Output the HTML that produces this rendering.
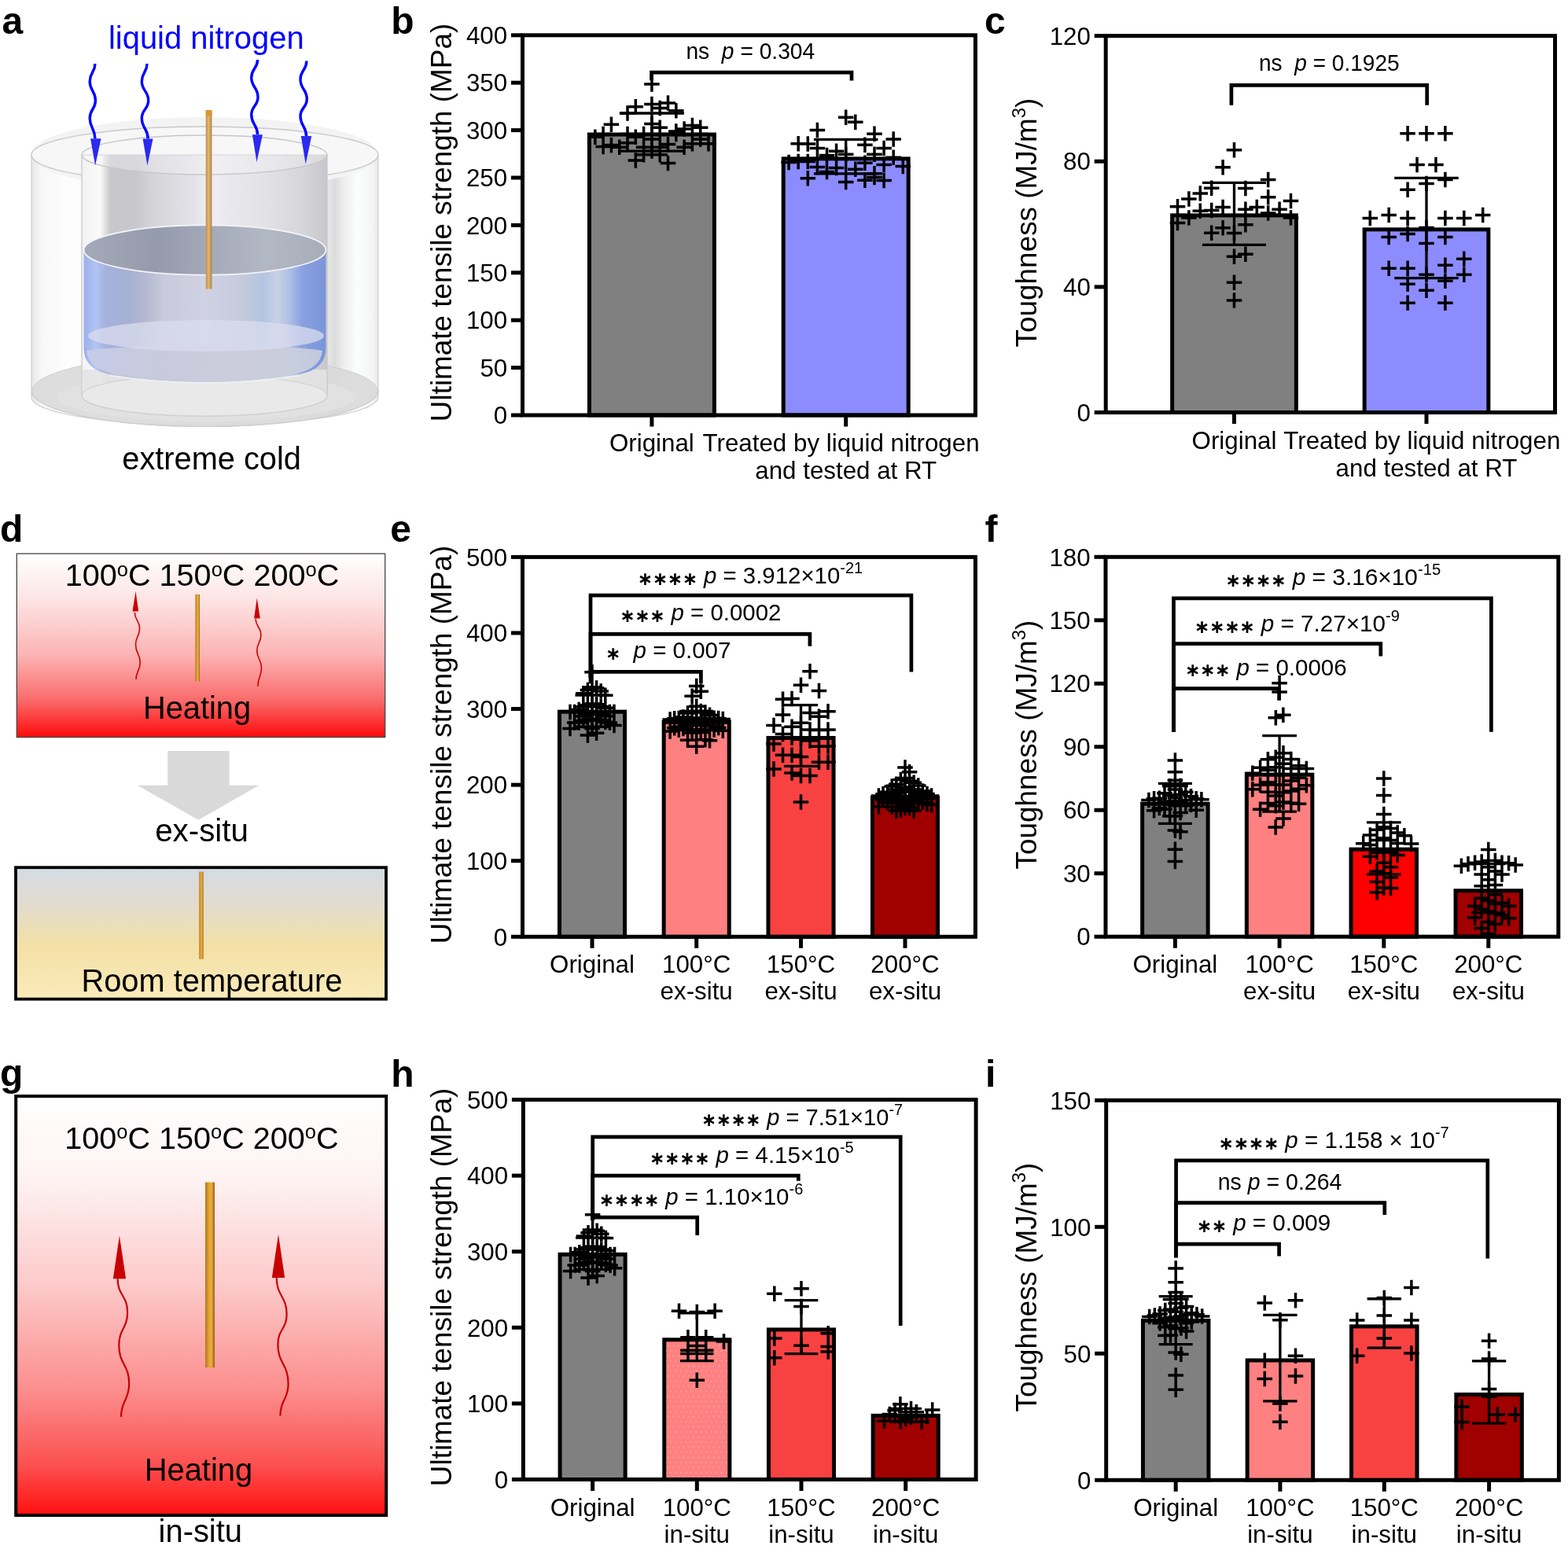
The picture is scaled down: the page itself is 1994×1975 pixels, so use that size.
<!DOCTYPE html><html><head><meta charset="utf-8"><title>Figure</title>
<style>html,body{margin:0;padding:0;background:#fff;}svg{display:block;}text{font-family:"Liberation Sans", Arial, Helvetica, sans-serif;}</style>
</head><body>
<svg width="1994" height="1975" viewBox="0 0 1994 1975">
<rect width="1994" height="1975" fill="#fff"/>
<defs>
<linearGradient id="gD" x1="0" y1="0" x2="0" y2="1">
 <stop offset="0" stop-color="#ffffff"/><stop offset="0.25" stop-color="#fde4e4"/><stop offset="0.55" stop-color="#fcb4b4"/><stop offset="0.8" stop-color="#fa6a6a"/><stop offset="1" stop-color="#ff0a0a"/>
</linearGradient>
<linearGradient id="gG" x1="0" y1="0" x2="0" y2="1">
 <stop offset="0" stop-color="#ffffff"/><stop offset="0.2" stop-color="#fef2f2"/><stop offset="0.45" stop-color="#fdcaca"/><stop offset="0.7" stop-color="#fc8e8e"/><stop offset="0.88" stop-color="#fc5050"/><stop offset="1" stop-color="#ff1010"/>
</linearGradient>
<linearGradient id="gRT" x1="0" y1="0" x2="0" y2="1">
 <stop offset="0" stop-color="#d4dbe6"/><stop offset="0.3" stop-color="#e3dccb"/><stop offset="0.6" stop-color="#f3e0a6"/><stop offset="1" stop-color="#fbebba"/>
</linearGradient>
<linearGradient id="gRod" x1="0" y1="0" x2="1" y2="0">
 <stop offset="0" stop-color="#b07818"/><stop offset="0.45" stop-color="#e8a838"/><stop offset="0.7" stop-color="#eaa83a"/><stop offset="1" stop-color="#8a5a10"/>
</linearGradient>
<pattern id="dots" x="0.6" y="1.2" width="6.45" height="12.9" patternUnits="userSpaceOnUse"><rect x="0.2" y="0.2" width="1.6" height="1.6" fill="#ffaaaa"/><rect x="3.4" y="6.65" width="1.6" height="1.6" fill="#ffaaaa"/></pattern>
</defs>
<text x="2.5" y="42.8" font-size="48" font-weight="bold">a</text>
<text x="497.3" y="42.8" font-size="48" font-weight="bold">b</text>
<text x="1252.1" y="42.8" font-size="48" font-weight="bold">c</text>
<text x="0" y="688.5" font-size="48" font-weight="bold">d</text>
<text x="496.2" y="688.5" font-size="48" font-weight="bold">e</text>
<text x="1252.5" y="688.5" font-size="48" font-weight="bold">f</text>
<text x="0" y="1381.3" font-size="48" font-weight="bold">g</text>
<text x="497.3" y="1381.5" font-size="48" font-weight="bold">h</text>
<text x="1253" y="1381.5" font-size="48" font-weight="bold">i</text>
<rect x="749.4" y="171.04" width="159" height="356.96" fill="#808080" stroke="#000" stroke-width="5"/>
<rect x="996.2" y="201.84" width="159" height="326.16" fill="#8c8cff" stroke="#000" stroke-width="5"/>
<rect x="664.5" y="44.8" width="575.9" height="483.2" fill="none" stroke="#000" stroke-width="5" stroke-linejoin="miter"/>
<line x1="650" y1="528" x2="664.5" y2="528" stroke="#000" stroke-width="5"/>
<text x="645.2" y="539.2" font-size="31.3" text-anchor="end">0</text>
<line x1="650" y1="467.6" x2="664.5" y2="467.6" stroke="#000" stroke-width="5"/>
<text x="645.2" y="478.8" font-size="31.3" text-anchor="end">50</text>
<line x1="650" y1="407.2" x2="664.5" y2="407.2" stroke="#000" stroke-width="5"/>
<text x="645.2" y="418.4" font-size="31.3" text-anchor="end">100</text>
<line x1="650" y1="346.8" x2="664.5" y2="346.8" stroke="#000" stroke-width="5"/>
<text x="645.2" y="358" font-size="31.3" text-anchor="end">150</text>
<line x1="650" y1="286.4" x2="664.5" y2="286.4" stroke="#000" stroke-width="5"/>
<text x="645.2" y="297.6" font-size="31.3" text-anchor="end">200</text>
<line x1="650" y1="226" x2="664.5" y2="226" stroke="#000" stroke-width="5"/>
<text x="645.2" y="237.2" font-size="31.3" text-anchor="end">250</text>
<line x1="650" y1="165.6" x2="664.5" y2="165.6" stroke="#000" stroke-width="5"/>
<text x="645.2" y="176.8" font-size="31.3" text-anchor="end">300</text>
<line x1="650" y1="105.2" x2="664.5" y2="105.2" stroke="#000" stroke-width="5"/>
<text x="645.2" y="116.4" font-size="31.3" text-anchor="end">350</text>
<line x1="650" y1="44.8" x2="664.5" y2="44.8" stroke="#000" stroke-width="5"/>
<text x="645.2" y="56" font-size="31.3" text-anchor="end">400</text>
<line x1="828.9" y1="528" x2="828.9" y2="542.5" stroke="#000" stroke-width="5"/>
<line x1="1075.7" y1="528" x2="1075.7" y2="542.5" stroke="#000" stroke-width="5"/>
<path d="M819.15 107.01h19.5M828.9 97.26v19.5M798.55 135.64h19.5M808.3 125.89v19.5M788.25 143.98h19.5M798 134.23v19.5M819.15 132.38h19.5M828.9 122.63v19.5M829.45 137.45h19.5M839.2 127.7v19.5M839.75 131.05h19.5M849.5 121.3v19.5M850.05 140.84h19.5M859.8 131.09v19.5M767.65 158.23h19.5M777.4 148.48v19.5M819.15 157.51h19.5M828.9 147.76v19.5M829.45 162.22h19.5M839.2 152.47v19.5M870.65 159.44h19.5M880.4 149.69v19.5M860.35 164.03h19.5M870.1 154.28v19.5M880.95 162.22h19.5M890.7 152.47v19.5M850.05 166.93h19.5M859.8 157.18v19.5M747.05 174.3h19.5M756.8 164.55v19.5M798.55 174.3h19.5M808.3 164.55v19.5M891.25 182.75h19.5M901 173v19.5M757.35 186.38h19.5M767.1 176.63v19.5M767.65 184.57h19.5M777.4 174.82v19.5M777.95 187.34h19.5M787.7 177.59v19.5M788.25 181.79h19.5M798 172.04v19.5M819.15 177.08h19.5M828.9 167.33v19.5M839.75 183.6h19.5M849.5 173.85v19.5M860.35 187.34h19.5M870.1 177.59v19.5M870.65 182.75h19.5M880.4 173v19.5M819.15 191.93h19.5M828.9 182.18v19.5M798.55 204.01h19.5M808.3 194.26v19.5M839.75 207.4h19.5M849.5 197.65v19.5M880.95 177.08h19.5M890.7 167.33v19.5M808.85 187.34h19.5M818.6 177.59v19.5M829.45 187.34h19.5M839.2 177.59v19.5M808.85 196.65h19.5M818.6 186.9v19.5M829.45 196.65h19.5M839.2 186.9v19.5M808.85 170.43h19.5M818.6 160.68v19.5M829.45 170.43h19.5M839.2 160.68v19.5M788.25 170.43h19.5M798 160.68v19.5M850.05 170.43h19.5M859.8 160.68v19.5M757.35 170.43h19.5M767.1 160.68v19.5M880.95 170.43h19.5M890.7 160.68v19.5" stroke="#000" stroke-width="3.5" fill="none"/>
<path d="M828.9 192.06V143.98M787.9 143.98h82M787.9 192.06h82" stroke="#000" stroke-width="3.3" fill="none"/>
<path d="M1065.95 149.17h19.5M1075.7 139.42v19.5M1078.05 155.33h19.5M1087.8 145.58v19.5M1029.65 165.6h19.5M1039.4 155.85v19.5M1102.25 170.19h19.5M1112 160.44v19.5M1126.45 176.96h19.5M1136.2 167.21v19.5M1005.45 182.63h19.5M1015.2 172.88v19.5M1017.55 183.12h19.5M1027.3 173.37v19.5M1029.65 188.55h19.5M1039.4 178.8v19.5M1090.15 184.2h19.5M1099.9 174.45v19.5M1053.85 192.18h19.5M1063.6 182.43v19.5M1041.75 197.49h19.5M1051.5 187.74v19.5M1065.95 196.28h19.5M1075.7 186.53v19.5M1114.35 188.55h19.5M1124.1 178.8v19.5M1102.25 196.28h19.5M1112 186.53v19.5M1126.45 200.27h19.5M1136.2 190.52v19.5M993.35 206.43h19.5M1003.1 196.68v19.5M1005.45 205.46h19.5M1015.2 195.71v19.5M1017.55 205.46h19.5M1027.3 195.71v19.5M1090.15 207.28h19.5M1099.9 197.53v19.5M1114.35 209.45h19.5M1124.1 199.7v19.5M1138.55 211.5h19.5M1148.3 201.75v19.5M1029.65 212.47h19.5M1039.4 202.72v19.5M1053.85 213.44h19.5M1063.6 203.69v19.5M1078.05 215.25h19.5M1087.8 205.5v19.5M1041.75 218.51h19.5M1051.5 208.76v19.5M1102.25 220.81h19.5M1112 211.06v19.5M1017.55 226.72h19.5M1027.3 216.97v19.5M1065.95 231.56h19.5M1075.7 221.81v19.5M1090.15 229.26h19.5M1099.9 219.51v19.5M1114.35 229.5h19.5M1124.1 219.75v19.5M1102.25 225.52h19.5M1112 215.77v19.5M1041.75 199.42h19.5M1051.5 189.67v19.5M1029.65 201.84h19.5M1039.4 192.09v19.5" stroke="#000" stroke-width="3.5" fill="none"/>
<path d="M1075.7 220.81V177.44M1034.95 177.44h81.5M1034.95 220.81h81.5" stroke="#000" stroke-width="3.3" fill="none"/>
<path d="M828.5 102.3V92.2H1083V102.6" stroke="#000" stroke-width="4.7" fill="none" stroke-linejoin="miter"/>
<text x="872.39" y="75" font-size="29.5" textLength="163.84" lengthAdjust="spacingAndGlyphs"><tspan>ns</tspan><tspan>&#160; </tspan><tspan font-style="italic">p</tspan><tspan> = 0.304</tspan></text>
<text x="828.9" y="574" font-size="31.3" text-anchor="middle">Original</text>
<text x="1069.6" y="574" font-size="31.3" text-anchor="middle">Treated by liquid nitrogen</text>
<text x="1075.7" y="609" font-size="31.3" text-anchor="middle">and tested at RT</text>
<text transform="translate(573.5 283) rotate(-90)" text-anchor="middle" font-size="36.9">Ultimate tensile strength (MPa)</text>
<rect x="1490.65" y="273.88" width="157.7" height="250.62" fill="#808080" stroke="#000" stroke-width="5"/>
<rect x="1735.15" y="291.83" width="157.7" height="232.67" fill="#8c8cff" stroke="#000" stroke-width="5"/>
<rect x="1406.2" y="45.6" width="571.3" height="478.9" fill="none" stroke="#000" stroke-width="5" stroke-linejoin="miter"/>
<line x1="1391.7" y1="524.5" x2="1406.2" y2="524.5" stroke="#000" stroke-width="5"/>
<text x="1386.9" y="535.7" font-size="31.3" text-anchor="end">0</text>
<line x1="1391.7" y1="364.87" x2="1406.2" y2="364.87" stroke="#000" stroke-width="5"/>
<text x="1386.9" y="376.07" font-size="31.3" text-anchor="end">40</text>
<line x1="1391.7" y1="205.23" x2="1406.2" y2="205.23" stroke="#000" stroke-width="5"/>
<text x="1386.9" y="216.43" font-size="31.3" text-anchor="end">80</text>
<line x1="1391.7" y1="45.6" x2="1406.2" y2="45.6" stroke="#000" stroke-width="5"/>
<text x="1386.9" y="56.8" font-size="31.3" text-anchor="end">120</text>
<line x1="1569.5" y1="524.5" x2="1569.5" y2="539" stroke="#000" stroke-width="5"/>
<line x1="1814" y1="524.5" x2="1814" y2="539" stroke="#000" stroke-width="5"/>
<path d="M1559.75 190.87h19.5M1569.5 181.12v19.5M1545.35 212.82h19.5M1555.1 203.07v19.5M1602.95 228.38h19.5M1612.7 218.63v19.5M1530.95 239.16h19.5M1540.7 229.41v19.5M1574.15 239.55h19.5M1583.9 229.8v19.5M1516.55 245.94h19.5M1526.3 236.19v19.5M1502.15 253.12h19.5M1511.9 243.37v19.5M1602.95 250.73h19.5M1612.7 240.98v19.5M1631.75 255.52h19.5M1641.5 245.77v19.5M1487.75 262.7h19.5M1497.5 252.95v19.5M1545.35 263.5h19.5M1555.1 253.75v19.5M1588.55 263.5h19.5M1598.3 253.75v19.5M1516.55 268.29h19.5M1526.3 258.54v19.5M1530.95 267.49h19.5M1540.7 257.74v19.5M1574.15 266.29h19.5M1583.9 256.54v19.5M1617.35 266.29h19.5M1627.1 256.54v19.5M1502.15 277.07h19.5M1511.9 267.32v19.5M1602.95 271.08h19.5M1612.7 261.33v19.5M1631.75 277.07h19.5M1641.5 267.32v19.5M1487.75 283.45h19.5M1497.5 273.7v19.5M1545.35 289.84h19.5M1555.1 280.09v19.5M1574.15 285.85h19.5M1583.9 276.1v19.5M1530.95 296.22h19.5M1540.7 286.47v19.5M1559.75 296.62h19.5M1569.5 286.87v19.5M1559.75 326.16h19.5M1569.5 316.41v19.5M1574.15 323.36h19.5M1583.9 313.61v19.5M1559.75 359.28h19.5M1569.5 349.53v19.5M1559.75 382.03h19.5M1569.5 372.28v19.5" stroke="#000" stroke-width="3.5" fill="none"/>
<path d="M1569.5 311.39V232.37M1528.95 232.37h81.1M1528.95 311.39h81.1" stroke="#000" stroke-width="3.3" fill="none"/>
<path d="M1780.35 169.71h19.5M1790.1 159.96v19.5M1804.25 169.71h19.5M1814 159.96v19.5M1828.15 169.71h19.5M1837.9 159.96v19.5M1792.3 209.62h19.5M1802.05 199.87v19.5M1816.2 209.62h19.5M1825.95 199.87v19.5M1828.15 228.38h19.5M1837.9 218.63v19.5M1804.25 233.57h19.5M1814 223.82v19.5M1780.35 241.15h19.5M1790.1 231.4v19.5M1732.55 277.47h19.5M1742.3 267.72v19.5M1756.45 273.48h19.5M1766.2 263.73v19.5M1780.35 277.47h19.5M1790.1 267.72v19.5M1828.15 277.47h19.5M1837.9 267.72v19.5M1852.05 277.47h19.5M1861.8 267.72v19.5M1875.95 273.48h19.5M1885.7 263.73v19.5M1804.25 289.44h19.5M1814 279.69v19.5M1756.45 301.41h19.5M1766.2 291.66v19.5M1780.35 297.42h19.5M1790.1 287.67v19.5M1828.15 301.41h19.5M1837.9 291.66v19.5M1804.25 309.39h19.5M1814 299.64v19.5M1852.05 329.35h19.5M1861.8 319.6v19.5M1756.45 341.32h19.5M1766.2 331.57v19.5M1780.35 341.32h19.5M1790.1 331.57v19.5M1828.15 337.33h19.5M1837.9 327.58v19.5M1804.25 349.3h19.5M1814 339.55v19.5M1852.05 349.3h19.5M1861.8 339.55v19.5M1780.35 361.27h19.5M1790.1 351.52v19.5M1828.15 357.28h19.5M1837.9 347.53v19.5M1804.25 369.26h19.5M1814 359.51v19.5M1780.35 385.22h19.5M1790.1 375.47v19.5M1828.15 385.22h19.5M1837.9 375.47v19.5" stroke="#000" stroke-width="3.5" fill="none"/>
<path d="M1814 353.69V226.38M1773.25 226.38h81.5M1773.25 353.69h81.5" stroke="#000" stroke-width="3.3" fill="none"/>
<path d="M1565.9 133.7V108.3H1814.7V133.7" stroke="#000" stroke-width="4.7" fill="none" stroke-linejoin="miter"/>
<text x="1601" y="90" font-size="29.5" textLength="178.72" lengthAdjust="spacingAndGlyphs"><tspan>ns</tspan><tspan>&#160; </tspan><tspan font-style="italic">p</tspan><tspan> = 0.1925</tspan></text>
<text x="1569.5" y="571" font-size="31.3" text-anchor="middle">Original</text>
<text x="1808.3" y="571" font-size="31.3" text-anchor="middle">Treated by liquid nitrogen</text>
<text x="1814" y="606" font-size="31.3" text-anchor="middle">and tested at RT</text>
<text transform="translate(1317.8 283) rotate(-90)" text-anchor="middle" font-size="36.9">Toughness (MJ/m<tspan font-size="24" dy="-14">3</tspan><tspan dy="14">)</tspan></text>
<rect x="711.45" y="905.13" width="83.1" height="286.17" fill="#808080" stroke="#000" stroke-width="5"/>
<rect x="844.15" y="918.46" width="83.1" height="272.84" fill="#ff8080" stroke="#000" stroke-width="5"/>
<rect x="976.95" y="938.45" width="83.1" height="252.85" fill="#f84242" stroke="#000" stroke-width="5"/>
<rect x="1109.45" y="1014.37" width="83.1" height="176.93" fill="#a00000" stroke="#000" stroke-width="5"/>
<rect x="664.5" y="708.4" width="575.9" height="482.9" fill="none" stroke="#000" stroke-width="5" stroke-linejoin="miter"/>
<line x1="650" y1="1191.3" x2="664.5" y2="1191.3" stroke="#000" stroke-width="5"/>
<text x="645.2" y="1202.5" font-size="31.3" text-anchor="end">0</text>
<line x1="650" y1="1094.72" x2="664.5" y2="1094.72" stroke="#000" stroke-width="5"/>
<text x="645.2" y="1105.92" font-size="31.3" text-anchor="end">100</text>
<line x1="650" y1="998.14" x2="664.5" y2="998.14" stroke="#000" stroke-width="5"/>
<text x="645.2" y="1009.34" font-size="31.3" text-anchor="end">200</text>
<line x1="650" y1="901.56" x2="664.5" y2="901.56" stroke="#000" stroke-width="5"/>
<text x="645.2" y="912.76" font-size="31.3" text-anchor="end">300</text>
<line x1="650" y1="804.98" x2="664.5" y2="804.98" stroke="#000" stroke-width="5"/>
<text x="645.2" y="816.18" font-size="31.3" text-anchor="end">400</text>
<line x1="650" y1="708.4" x2="664.5" y2="708.4" stroke="#000" stroke-width="5"/>
<text x="645.2" y="719.6" font-size="31.3" text-anchor="end">500</text>
<line x1="753" y1="1191.3" x2="753" y2="1205.8" stroke="#000" stroke-width="5"/>
<line x1="885.7" y1="1191.3" x2="885.7" y2="1205.8" stroke="#000" stroke-width="5"/>
<line x1="1018.5" y1="1191.3" x2="1018.5" y2="1205.8" stroke="#000" stroke-width="5"/>
<line x1="1151" y1="1191.3" x2="1151" y2="1205.8" stroke="#000" stroke-width="5"/>
<path d="M743.25 854.72h19.5M753 844.97v19.5M743.25 873.94h19.5M753 864.19v19.5M748.85 875h19.5M758.6 865.25v19.5M737.65 877.61h19.5M747.4 867.86v19.5M754.45 879.06h19.5M764.2 869.31v19.5M732.05 881.76h19.5M741.8 872.01v19.5M760.05 884.27h19.5M769.8 874.52v19.5M743.25 895.09h19.5M753 885.34v19.5M748.85 895.67h19.5M758.6 885.92v19.5M737.65 896.63h19.5M747.4 886.88v19.5M754.45 898.86h19.5M764.2 889.11v19.5M732.05 898.86h19.5M741.8 889.11v19.5M760.05 900.3h19.5M769.8 890.55v19.5M726.45 902.62h19.5M736.2 892.87v19.5M765.65 905.42h19.5M775.4 895.67v19.5M720.85 905.42h19.5M730.6 895.67v19.5M771.25 905.42h19.5M781 895.67v19.5M715.25 905.42h19.5M725 895.67v19.5M743.25 905.42h19.5M753 895.67v19.5M748.85 905.42h19.5M758.6 895.67v19.5M737.65 908.51h19.5M747.4 898.76v19.5M754.45 908.51h19.5M764.2 898.76v19.5M732.05 910.74h19.5M741.8 900.99v19.5M760.05 910.74h19.5M769.8 900.99v19.5M743.25 914.5h19.5M753 904.75v19.5M748.85 915.27h19.5M758.6 905.52v19.5M737.65 915.27h19.5M747.4 905.52v19.5M754.45 915.95h19.5M764.2 906.2v19.5M732.05 916.72h19.5M741.8 906.97v19.5M760.05 918.17h19.5M769.8 908.42v19.5M726.45 918.94h19.5M736.2 909.19v19.5M726.45 918.94h19.5M736.2 909.19v19.5M765.65 918.94h19.5M775.4 909.19v19.5M720.85 918.94h19.5M730.6 909.19v19.5M771.25 922.61h19.5M781 912.86v19.5M715.25 926.38h19.5M725 916.63v19.5M743.25 926.38h19.5M753 916.63v19.5M748.85 932.27h19.5M758.6 922.52v19.5M737.65 934.98h19.5M747.4 925.23v19.5" stroke="#000" stroke-width="3.5" fill="none"/>
<path d="M753 924.26V883.98M731.5 883.98h43M731.5 924.26h43" stroke="#000" stroke-width="3.3" fill="none"/>
<path d="M875.95 872.59h19.5M885.7 862.84v19.5M881.55 879.35h19.5M891.3 869.6v19.5M870.35 885.14h19.5M880.1 875.39v19.5M875.95 898.35h19.5M885.7 888.6v19.5M881.55 904.58h19.5M891.3 894.83v19.5M870.35 904.88h19.5M880.1 895.13v19.5M887.15 905.95h19.5M896.9 896.2v19.5M864.75 906.89h19.5M874.5 897.14v19.5M892.75 909.17h19.5M902.5 899.42v19.5M859.15 911.97h19.5M868.9 902.22v19.5M875.95 912.92h19.5M885.7 903.17v19.5M898.35 913.37h19.5M908.1 903.62v19.5M853.55 913.49h19.5M863.3 903.74v19.5M903.95 913.55h19.5M913.7 903.8v19.5M847.95 913.65h19.5M857.7 903.9v19.5M909.55 914.58h19.5M919.3 904.83v19.5M842.35 914.95h19.5M852.1 905.2v19.5M875.95 914.96h19.5M885.7 905.21v19.5M881.55 916.03h19.5M891.3 906.28v19.5M870.35 916.08h19.5M880.1 906.33v19.5M887.15 916.79h19.5M896.9 907.04v19.5M864.75 916.79h19.5M874.5 907.04v19.5M892.75 916.84h19.5M902.5 907.09v19.5M859.15 917.58h19.5M868.9 907.83v19.5M881.55 920.49h19.5M891.3 910.74v19.5M870.35 921.25h19.5M880.1 911.5v19.5M887.15 922.59h19.5M896.9 912.84v19.5M864.75 922.75h19.5M874.5 913v19.5M898.35 923.12h19.5M908.1 913.37v19.5M892.75 923.87h19.5M902.5 914.12v19.5M853.55 924.23h19.5M863.3 914.48v19.5M903.95 925.53h19.5M913.7 915.78v19.5M847.95 925.79h19.5M857.7 916.04v19.5M859.15 926.45h19.5M868.9 916.7v19.5M875.95 927.7h19.5M885.7 917.95v19.5M898.35 927.97h19.5M908.1 918.22v19.5M853.55 928.21h19.5M863.3 918.46v19.5M909.55 929.2h19.5M919.3 919.45v19.5M842.35 930.05h19.5M852.1 920.3v19.5M875.95 931.08h19.5M885.7 921.33v19.5M881.55 931.59h19.5M891.3 921.84v19.5M870.35 931.92h19.5M880.1 922.17v19.5M887.15 940.83h19.5M896.9 931.08v19.5M864.75 941.15h19.5M874.5 931.4v19.5M892.75 941.81h19.5M902.5 932.06v19.5M875.95 949.27h19.5M885.7 939.52v19.5" stroke="#000" stroke-width="3.5" fill="none"/>
<path d="M885.7 928.6V904.46M864.2 904.46h43M864.2 928.6h43" stroke="#000" stroke-width="3.3" fill="none"/>
<path d="M1020.25 853.66h19.5M1030 843.91v19.5M1008.75 871.14h19.5M1018.5 861.39v19.5M1031.75 878.38h19.5M1041.5 868.63v19.5M985.75 889.29h19.5M995.5 879.54v19.5M997.25 888.43h19.5M1007 878.68v19.5M1043.25 904.65h19.5M1053 894.9v19.5M985.75 909.09h19.5M995.5 899.34v19.5M1020.25 906.58h19.5M1030 896.83v19.5M1031.75 911.22h19.5M1041.5 901.47v19.5M974.25 922.61h19.5M984 912.86v19.5M997.25 924.16h19.5M1007 914.41v19.5M1008.75 919.14h19.5M1018.5 909.39v19.5M1020.25 927.93h19.5M1030 918.18v19.5M1043.25 927.93h19.5M1053 918.18v19.5M1031.75 928.6h19.5M1041.5 918.85v19.5M985.75 933.43h19.5M995.5 923.68v19.5M974.25 946.08h19.5M984 936.33v19.5M1031.75 949.17h19.5M1041.5 939.42v19.5M1043.25 948.88h19.5M1053 939.13v19.5M985.75 960.18h19.5M995.5 950.43v19.5M997.25 960.18h19.5M1007 950.43v19.5M1008.75 962.41h19.5M1018.5 952.66v19.5M1031.75 969.26h19.5M1041.5 959.51v19.5M1043.25 969.26h19.5M1053 959.51v19.5M974.25 978.05h19.5M984 968.3v19.5M997.25 983.07h19.5M1007 973.32v19.5M1008.75 986.55h19.5M1018.5 976.8v19.5M1020.25 986.55h19.5M1030 976.8v19.5M1008.75 1019.97h19.5M1018.5 1010.22v19.5M1008.75 940.19h19.5M1018.5 930.44v19.5M997.25 938.26h19.5M1007 928.51v19.5M1020.25 942.12h19.5M1030 932.37v19.5" stroke="#000" stroke-width="3.5" fill="none"/>
<path d="M1018.5 974.28V896.63M996.85 896.63h43.3M996.85 974.28h43.3" stroke="#000" stroke-width="3.3" fill="none"/>
<path d="M1141.25 975.93h19.5M1151 966.18v19.5M1146.85 981.72h19.5M1156.6 971.97v19.5M1141.25 989.45h19.5M1151 979.7v19.5M1135.65 991.38h19.5M1145.4 981.63v19.5M1146.85 993.31h19.5M1156.6 983.56v19.5M1152.45 995.24h19.5M1162.2 985.49v19.5M1130.05 997.17h19.5M1139.8 987.42v19.5M1158.05 999.11h19.5M1167.8 989.36v19.5M1124.45 1000.07h19.5M1134.2 990.32v19.5M1141.25 1001.04h19.5M1151 991.29v19.5M1146.85 1004.94h19.5M1156.6 995.19v19.5M1135.65 1006.04h19.5M1145.4 996.29v19.5M1163.65 1006.06h19.5M1173.4 996.31v19.5M1152.45 1007.03h19.5M1162.2 997.28v19.5M1118.85 1007.15h19.5M1128.6 997.4v19.5M1130.05 1008.51h19.5M1139.8 998.76v19.5M1169.25 1009.41h19.5M1179 999.66v19.5M1113.25 1009.64h19.5M1123 999.89v19.5M1158.05 1010.49h19.5M1167.8 1000.74v19.5M1124.45 1011.64h19.5M1134.2 1001.89v19.5M1174.85 1012.01h19.5M1184.6 1002.26v19.5M1107.65 1012.03h19.5M1117.4 1002.28v19.5M1141.25 1012.3h19.5M1151 1002.55v19.5M1141.25 1012.73h19.5M1151 1002.98v19.5M1146.85 1012.89h19.5M1156.6 1003.14v19.5M1135.65 1013.34h19.5M1145.4 1003.59v19.5M1152.45 1013.4h19.5M1162.2 1003.65v19.5M1130.05 1013.87h19.5M1139.8 1004.12v19.5M1158.05 1013.9h19.5M1167.8 1004.15v19.5M1124.45 1014.71h19.5M1134.2 1004.96v19.5M1163.65 1014.76h19.5M1173.4 1005.01v19.5M1118.85 1015.35h19.5M1128.6 1005.6v19.5M1169.25 1015.63h19.5M1179 1005.88v19.5M1146.85 1016.14h19.5M1156.6 1006.39v19.5M1113.25 1016.94h19.5M1123 1007.19v19.5M1135.65 1017.26h19.5M1145.4 1007.51v19.5M1152.45 1018.82h19.5M1162.2 1009.07v19.5M1130.05 1019.77h19.5M1139.8 1010.02v19.5M1163.65 1020.34h19.5M1173.4 1010.59v19.5M1118.85 1020.92h19.5M1128.6 1011.17v19.5M1158.05 1021.82h19.5M1167.8 1012.07v19.5M1169.25 1022.41h19.5M1179 1012.66v19.5M1174.85 1023.5h19.5M1184.6 1013.75v19.5M1141.25 1024.6h19.5M1151 1014.85v19.5M1107.65 1025.65h19.5M1117.4 1015.9v19.5M1124.45 1025.9h19.5M1134.2 1016.15v19.5M1141.25 1027.05h19.5M1151 1017.3v19.5M1146.85 1027.1h19.5M1156.6 1017.35v19.5M1146.85 1027.28h19.5M1156.6 1017.53v19.5M1135.65 1030.25h19.5M1145.4 1020.5v19.5M1152.45 1031.08h19.5M1162.2 1021.33v19.5M1130.05 1031.21h19.5M1139.8 1021.46v19.5" stroke="#000" stroke-width="3.5" fill="none"/>
<path d="M1151 1021.32V1003.93M1129.5 1003.93h43M1129.5 1021.32h43" stroke="#000" stroke-width="3.3" fill="none"/>
<path d="M751 869.3V854.4H891.4V869.3" stroke="#000" stroke-width="4.7" fill="none" stroke-linejoin="miter"/>
<path d="M751 862V806.4H1029.9V821.7" stroke="#000" stroke-width="4.7" fill="none" stroke-linejoin="miter"/>
<path d="M751 862V757.2H1158.9V854.4" stroke="#000" stroke-width="4.7" fill="none" stroke-linejoin="miter"/>
<text x="770.1" y="837.4" font-size="29.5" textLength="159.27" lengthAdjust="spacingAndGlyphs"><tspan font-family="DejaVu Sans" font-weight="bold" font-size="23.5" letter-spacing="-0.6" dy="1.8">&#8727;</tspan><tspan dy="-1.8">&#160; </tspan><tspan font-style="italic">p</tspan><tspan> = 0.007</tspan></text>
<text x="788.31" y="788.8" font-size="29.5" textLength="205.05" lengthAdjust="spacingAndGlyphs"><tspan font-family="DejaVu Sans" font-weight="bold" font-size="23.5" letter-spacing="-0.6" dy="1.8">&#8727;&#8727;&#8727;</tspan><tspan dy="-1.8"> </tspan><tspan font-style="italic">p</tspan><tspan> = 0.0002</tspan></text>
<text x="810.71" y="742.1" font-size="29.5" textLength="286.38" lengthAdjust="spacingAndGlyphs"><tspan font-family="DejaVu Sans" font-weight="bold" font-size="23.5" letter-spacing="-0.6" dy="1.8">&#8727;&#8727;&#8727;&#8727;</tspan><tspan dy="-1.8"> </tspan><tspan font-style="italic">p</tspan><tspan> = 3.912×10</tspan><tspan font-size="20" dy="-13">-21</tspan></text>
<text x="753" y="1237.2" font-size="31.3" text-anchor="middle">Original</text>
<text x="885.7" y="1237.2" font-size="31.3" text-anchor="middle">100°C</text>
<text x="1018.5" y="1237.2" font-size="31.3" text-anchor="middle">150°C</text>
<text x="1151" y="1237.2" font-size="31.3" text-anchor="middle">200°C</text>
<text x="885.7" y="1271.4" font-size="31.3" text-anchor="middle">ex-situ</text>
<text x="1018.5" y="1271.4" font-size="31.3" text-anchor="middle">ex-situ</text>
<text x="1151" y="1271.4" font-size="31.3" text-anchor="middle">ex-situ</text>
<text transform="translate(573.5 947) rotate(-90)" text-anchor="middle" font-size="36.9">Ultimate tensile strength (MPa)</text>
<rect x="1452.65" y="1022.19" width="83.5" height="169.01" fill="#808080" stroke="#000" stroke-width="5"/>
<rect x="1585.35" y="985.16" width="83.5" height="206.04" fill="#ff8080" stroke="#000" stroke-width="5"/>
<rect x="1718.05" y="1080.13" width="83.5" height="111.07" fill="#ff0000" stroke="#000" stroke-width="5"/>
<rect x="1851.05" y="1132.72" width="83.5" height="58.48" fill="#a00000" stroke="#000" stroke-width="5"/>
<rect x="1406" y="708.3" width="575.8" height="482.9" fill="none" stroke="#000" stroke-width="5" stroke-linejoin="miter"/>
<line x1="1391.5" y1="1191.2" x2="1406" y2="1191.2" stroke="#000" stroke-width="5"/>
<text x="1386.7" y="1202.4" font-size="31.3" text-anchor="end">0</text>
<line x1="1391.5" y1="1110.72" x2="1406" y2="1110.72" stroke="#000" stroke-width="5"/>
<text x="1386.7" y="1121.92" font-size="31.3" text-anchor="end">30</text>
<line x1="1391.5" y1="1030.23" x2="1406" y2="1030.23" stroke="#000" stroke-width="5"/>
<text x="1386.7" y="1041.43" font-size="31.3" text-anchor="end">60</text>
<line x1="1391.5" y1="949.75" x2="1406" y2="949.75" stroke="#000" stroke-width="5"/>
<text x="1386.7" y="960.95" font-size="31.3" text-anchor="end">90</text>
<line x1="1391.5" y1="869.27" x2="1406" y2="869.27" stroke="#000" stroke-width="5"/>
<text x="1386.7" y="880.47" font-size="31.3" text-anchor="end">120</text>
<line x1="1391.5" y1="788.78" x2="1406" y2="788.78" stroke="#000" stroke-width="5"/>
<text x="1386.7" y="799.98" font-size="31.3" text-anchor="end">150</text>
<line x1="1391.5" y1="708.3" x2="1406" y2="708.3" stroke="#000" stroke-width="5"/>
<text x="1386.7" y="719.5" font-size="31.3" text-anchor="end">180</text>
<line x1="1494.4" y1="1191.2" x2="1494.4" y2="1205.7" stroke="#000" stroke-width="5"/>
<line x1="1627.1" y1="1191.2" x2="1627.1" y2="1205.7" stroke="#000" stroke-width="5"/>
<line x1="1759.8" y1="1191.2" x2="1759.8" y2="1205.7" stroke="#000" stroke-width="5"/>
<line x1="1892.8" y1="1191.2" x2="1892.8" y2="1205.7" stroke="#000" stroke-width="5"/>
<path d="M1484.65 966.92h19.5M1494.4 957.17v19.5M1484.65 981.68h19.5M1494.4 971.93v19.5M1484.65 992.14h19.5M1494.4 982.39v19.5M1491.35 999.38h19.5M1501.1 989.63v19.5M1477.95 999.65h19.5M1487.7 989.9v19.5M1484.65 1003.94h19.5M1494.4 994.19v19.5M1498.05 1007.16h19.5M1507.8 997.41v19.5M1471.25 1008.77h19.5M1481 999.02v19.5M1491.35 1010.38h19.5M1501.1 1000.63v19.5M1477.95 1011.45h19.5M1487.7 1001.7v19.5M1504.75 1012.8h19.5M1514.5 1003.05v19.5M1484.65 1014.14h19.5M1494.4 1004.39v19.5M1464.55 1015.21h19.5M1474.3 1005.46v19.5M1511.45 1015.75h19.5M1521.2 1006v19.5M1457.85 1015.75h19.5M1467.6 1006v19.5M1518.15 1016.82h19.5M1527.9 1007.07v19.5M1498.05 1017.62h19.5M1507.8 1007.87v19.5M1451.15 1017.62h19.5M1460.9 1007.87v19.5M1484.65 1018.16h19.5M1494.4 1008.41v19.5M1491.35 1018.43h19.5M1501.1 1008.68v19.5M1471.25 1018.97h19.5M1481 1009.22v19.5M1477.95 1020.04h19.5M1487.7 1010.29v19.5M1491.35 1020.84h19.5M1501.1 1011.09v19.5M1477.95 1022.19h19.5M1487.7 1012.44v19.5M1504.75 1023.53h19.5M1514.5 1013.78v19.5M1484.65 1024.87h19.5M1494.4 1015.12v19.5M1498.05 1024.87h19.5M1507.8 1015.12v19.5M1464.55 1027.55h19.5M1474.3 1017.8v19.5M1471.25 1029.16h19.5M1481 1019.41v19.5M1511.45 1030.23h19.5M1521.2 1020.48v19.5M1457.85 1030.77h19.5M1467.6 1021.02v19.5M1491.35 1033.45h19.5M1501.1 1023.7v19.5M1484.65 1037.75h19.5M1494.4 1028v19.5M1477.95 1038.01h19.5M1487.7 1028.26v19.5M1484.65 1055.99h19.5M1494.4 1046.24v19.5M1491.35 1057.87h19.5M1501.1 1048.12v19.5M1484.65 1080.13h19.5M1494.4 1070.38v19.5M1484.65 1095.42h19.5M1494.4 1085.67v19.5" stroke="#000" stroke-width="3.5" fill="none"/>
<path d="M1494.4 1047.4V996.43M1472.9 996.43h43M1472.9 1047.4h43" stroke="#000" stroke-width="3.3" fill="none"/>
<path d="M1617.35 868.73h19.5M1627.1 858.98v19.5M1617.35 880h19.5M1627.1 870.25v19.5M1612.6 912.73h19.5M1622.35 902.98v19.5M1622.1 909.24h19.5M1631.85 899.49v19.5" stroke="#000" stroke-width="3.5" fill="none"/>
<path d="M1622.25 957.8h19.5M1632 948.05v19.5M1612.45 963.16h19.5M1622.2 953.41v19.5M1632.05 965.58h19.5M1641.8 955.83v19.5M1602.65 965.85h19.5M1612.4 956.1v19.5M1622.25 971.29h19.5M1632 961.54v19.5M1641.85 973.84h19.5M1651.6 964.09v19.5M1612.45 975.79h19.5M1622.2 966.04v19.5M1592.85 976.21h19.5M1602.6 966.46v19.5M1651.65 977.42h19.5M1661.4 967.67v19.5M1632.05 977.58h19.5M1641.8 967.83v19.5M1602.65 979.54h19.5M1612.4 969.79v19.5M1583.05 983.15h19.5M1592.8 973.4v19.5M1622.25 984.99h19.5M1632 975.24v19.5M1622.25 985.07h19.5M1632 975.32v19.5M1612.45 985.41h19.5M1622.2 975.66v19.5M1641.85 989.26h19.5M1651.6 979.51v19.5M1632.05 993.1h19.5M1641.8 983.35v19.5M1602.65 994.85h19.5M1612.4 985.1v19.5M1622.25 997.89h19.5M1632 988.14v19.5M1612.45 998.04h19.5M1622.2 988.29v19.5M1592.85 998.18h19.5M1602.6 988.43v19.5M1651.65 998.81h19.5M1661.4 989.06v19.5M1641.85 1003.15h19.5M1651.6 993.4v19.5M1583.05 1003.71h19.5M1592.8 993.96v19.5M1632.05 1006.09h19.5M1641.8 996.34v19.5M1602.65 1007.26h19.5M1612.4 997.51v19.5M1622.25 1007.78h19.5M1632 998.03v19.5M1612.45 1011.89h19.5M1622.2 1002.14v19.5M1622.25 1019.98h19.5M1632 1010.23v19.5M1632.05 1021.27h19.5M1641.8 1011.52v19.5M1602.65 1021.38h19.5M1612.4 1011.63v19.5M1641.85 1022.19h19.5M1651.6 1012.44v19.5M1612.45 1024.81h19.5M1622.2 1015.06v19.5M1592.85 1029.37h19.5M1602.6 1019.62v19.5M1622.25 1040.96h19.5M1632 1031.21v19.5M1612.45 1051.96h19.5M1622.2 1042.21v19.5" stroke="#000" stroke-width="3.5" fill="none"/>
<path d="M1627.1 1032.11V935.53M1605.25 935.53h43.7M1605.25 1032.11h43.7" stroke="#000" stroke-width="3.3" fill="none"/>
<path d="M1750.05 989.99h19.5M1759.8 980.24v19.5M1750.05 1011.45h19.5M1759.8 1001.7v19.5M1750.05 1035.6h19.5M1759.8 1025.85v19.5M1750.05 1051.63h19.5M1759.8 1041.88v19.5M1758.75 1053.57h19.5M1768.5 1043.82v19.5M1741.35 1055.33h19.5M1751.1 1045.58v19.5M1767.45 1058.95h19.5M1777.2 1049.2v19.5M1732.65 1062h19.5M1742.4 1052.25v19.5M1776.15 1062.76h19.5M1785.9 1053.01v19.5M1750.05 1065.84h19.5M1759.8 1056.09v19.5M1758.75 1068.43h19.5M1768.5 1058.68v19.5M1741.35 1068.57h19.5M1751.1 1058.82v19.5M1767.45 1072.47h19.5M1777.2 1062.72v19.5M1723.95 1072.84h19.5M1733.7 1063.09v19.5M1784.85 1072.89h19.5M1794.6 1063.14v19.5M1732.65 1074.47h19.5M1742.4 1064.72v19.5M1750.05 1081.03h19.5M1759.8 1071.28v19.5M1758.75 1083.89h19.5M1768.5 1074.14v19.5M1741.35 1084.25h19.5M1751.1 1074.5v19.5M1767.45 1087.49h19.5M1777.2 1077.74v19.5M1732.65 1089.25h19.5M1742.4 1079.5v19.5M1750.05 1097.3h19.5M1759.8 1087.55v19.5M1758.75 1102.67h19.5M1768.5 1092.92v19.5M1741.35 1108.03h19.5M1751.1 1098.28v19.5M1750.05 1110.72h19.5M1759.8 1100.97v19.5M1758.75 1116.08h19.5M1768.5 1106.33v19.5M1741.35 1121.45h19.5M1751.1 1111.7v19.5M1750.05 1128.96h19.5M1759.8 1119.21v19.5M1758.75 1129.5h19.5M1768.5 1119.75v19.5M1741.35 1134.86h19.5M1751.1 1125.11v19.5" stroke="#000" stroke-width="3.5" fill="none"/>
<path d="M1759.8 1111.79V1045.79M1737.95 1045.79h43.7M1737.95 1111.79h43.7" stroke="#000" stroke-width="3.3" fill="none"/>
<path d="M1883.05 1080.4h19.5M1892.8 1070.65v19.5M1883.05 1094.62h19.5M1892.8 1084.87v19.5M1891.65 1094.62h19.5M1901.4 1084.87v19.5M1874.45 1095.96h19.5M1884.2 1086.21v19.5M1900.25 1097.3h19.5M1910 1087.55v19.5M1865.85 1097.3h19.5M1875.6 1087.55v19.5M1908.85 1097.84h19.5M1918.6 1088.09v19.5M1857.25 1098.64h19.5M1867 1088.89v19.5M1917.45 1099.99h19.5M1927.2 1090.24v19.5M1848.65 1101.33h19.5M1858.4 1091.58v19.5M1883.05 1102.67h19.5M1892.8 1092.92v19.5M1891.65 1108.03h19.5M1901.4 1098.28v19.5M1874.45 1112.06h19.5M1884.2 1102.31v19.5M1900.25 1112.06h19.5M1910 1102.31v19.5M1883.05 1118.77h19.5M1892.8 1109.02v19.5M1891.65 1125.47h19.5M1901.4 1115.72v19.5M1874.45 1126.81h19.5M1884.2 1117.06v19.5M1883.05 1132.18h19.5M1892.8 1122.43v19.5M1891.65 1137.54h19.5M1901.4 1127.79v19.5M1874.45 1142.37h19.5M1884.2 1132.62v19.5M1883.05 1145.59h19.5M1892.8 1135.84v19.5M1900.25 1148.28h19.5M1910 1138.53v19.5M1891.65 1149.62h19.5M1901.4 1139.87v19.5M1865.85 1152.3h19.5M1875.6 1142.55v19.5M1908.85 1152.3h19.5M1918.6 1142.55v19.5M1874.45 1156.32h19.5M1884.2 1146.57v19.5M1883.05 1159.01h19.5M1892.8 1149.26v19.5M1891.65 1161.69h19.5M1901.4 1151.94v19.5M1900.25 1163.84h19.5M1910 1154.09v19.5M1865.85 1167.06h19.5M1875.6 1157.31v19.5M1908.85 1167.86h19.5M1918.6 1158.11v19.5M1883.05 1172.42h19.5M1892.8 1162.67v19.5M1891.65 1175.37h19.5M1901.4 1165.62v19.5M1874.45 1180.47h19.5M1884.2 1170.72v19.5M1883.05 1187.44h19.5M1892.8 1177.69v19.5" stroke="#000" stroke-width="3.5" fill="none"/>
<path d="M1892.8 1160.62V1098.64M1871.3 1098.64h43M1871.3 1160.62h43" stroke="#000" stroke-width="3.3" fill="none"/>
<path d="M1492.5 930.7V875.6H1626.6V890.8" stroke="#000" stroke-width="4.7" fill="none" stroke-linejoin="miter"/>
<path d="M1492.5 930.7V818.6H1755.8V834.5" stroke="#000" stroke-width="4.7" fill="none" stroke-linejoin="miter"/>
<path d="M1492.5 930.7V760.8H1896.4V930.7" stroke="#000" stroke-width="4.7" fill="none" stroke-linejoin="miter"/>
<text x="1506.9" y="858.6" font-size="29.5" textLength="205.77" lengthAdjust="spacingAndGlyphs"><tspan font-family="DejaVu Sans" font-weight="bold" font-size="23.5" letter-spacing="-0.6" dy="1.8">&#8727;&#8727;&#8727;</tspan><tspan dy="-1.8"> </tspan><tspan font-style="italic">p</tspan><tspan> = 0.0006</tspan></text>
<text x="1518.79" y="803.3" font-size="29.5" textLength="261.09" lengthAdjust="spacingAndGlyphs"><tspan font-family="DejaVu Sans" font-weight="bold" font-size="23.5" letter-spacing="-0.6" dy="1.8">&#8727;&#8727;&#8727;&#8727;</tspan><tspan dy="-1.8"> </tspan><tspan font-style="italic">p</tspan><tspan> = 7.27×10</tspan><tspan font-size="20" dy="-13">-9</tspan></text>
<text x="1558.17" y="743.9" font-size="29.5" textLength="274.03" lengthAdjust="spacingAndGlyphs"><tspan font-family="DejaVu Sans" font-weight="bold" font-size="23.5" letter-spacing="-0.6" dy="1.8">&#8727;&#8727;&#8727;&#8727;</tspan><tspan dy="-1.8"> </tspan><tspan font-style="italic">p</tspan><tspan> = 3.16×10</tspan><tspan font-size="20" dy="-13">-15</tspan></text>
<text x="1494.4" y="1236.5" font-size="31.3" text-anchor="middle">Original</text>
<text x="1627.1" y="1236.5" font-size="31.3" text-anchor="middle">100°C</text>
<text x="1759.8" y="1236.5" font-size="31.3" text-anchor="middle">150°C</text>
<text x="1892.8" y="1236.5" font-size="31.3" text-anchor="middle">200°C</text>
<text x="1627.1" y="1270.7" font-size="31.3" text-anchor="middle">ex-situ</text>
<text x="1759.8" y="1270.7" font-size="31.3" text-anchor="middle">ex-situ</text>
<text x="1892.8" y="1270.7" font-size="31.3" text-anchor="middle">ex-situ</text>
<text transform="translate(1317.8 947) rotate(-90)" text-anchor="middle" font-size="36.9">Toughness (MJ/m<tspan font-size="24" dy="-14">3</tspan><tspan dy="14">)</tspan></text>
<rect x="712.05" y="1595.27" width="83.1" height="286.23" fill="#808080" stroke="#000" stroke-width="5"/>
<rect x="844.75" y="1703.76" width="83.1" height="177.74" fill="#ff8080" stroke="#000" stroke-width="5"/>
<rect x="847.25" y="1706.26" width="78.1" height="172.74" fill="url(#dots)"/>
<rect x="977.45" y="1690.91" width="83.1" height="190.59" fill="#f84242" stroke="#000" stroke-width="5"/>
<rect x="1110.15" y="1800.36" width="83.1" height="81.14" fill="#a00000" stroke="#000" stroke-width="5"/>
<rect x="665.4" y="1398.5" width="575.7" height="483" fill="none" stroke="#000" stroke-width="5" stroke-linejoin="miter"/>
<line x1="650.9" y1="1881.5" x2="665.4" y2="1881.5" stroke="#000" stroke-width="5"/>
<text x="646.1" y="1892.7" font-size="31.3" text-anchor="end">0</text>
<line x1="650.9" y1="1784.9" x2="665.4" y2="1784.9" stroke="#000" stroke-width="5"/>
<text x="646.1" y="1796.1" font-size="31.3" text-anchor="end">100</text>
<line x1="650.9" y1="1688.3" x2="665.4" y2="1688.3" stroke="#000" stroke-width="5"/>
<text x="646.1" y="1699.5" font-size="31.3" text-anchor="end">200</text>
<line x1="650.9" y1="1591.7" x2="665.4" y2="1591.7" stroke="#000" stroke-width="5"/>
<text x="646.1" y="1602.9" font-size="31.3" text-anchor="end">300</text>
<line x1="650.9" y1="1495.1" x2="665.4" y2="1495.1" stroke="#000" stroke-width="5"/>
<text x="646.1" y="1506.3" font-size="31.3" text-anchor="end">400</text>
<line x1="650.9" y1="1398.5" x2="665.4" y2="1398.5" stroke="#000" stroke-width="5"/>
<text x="646.1" y="1409.7" font-size="31.3" text-anchor="end">500</text>
<line x1="753.6" y1="1881.5" x2="753.6" y2="1896" stroke="#000" stroke-width="5"/>
<line x1="886.3" y1="1881.5" x2="886.3" y2="1896" stroke="#000" stroke-width="5"/>
<line x1="1019" y1="1881.5" x2="1019" y2="1896" stroke="#000" stroke-width="5"/>
<line x1="1151.7" y1="1881.5" x2="1151.7" y2="1896" stroke="#000" stroke-width="5"/>
<path d="M743.85 1544.85h19.5M753.6 1535.1v19.5M743.85 1564.07h19.5M753.6 1554.32v19.5M749.45 1565.13h19.5M759.2 1555.38v19.5M738.25 1567.74h19.5M748 1557.99v19.5M755.05 1569.19h19.5M764.8 1559.44v19.5M732.65 1571.9h19.5M742.4 1562.15v19.5M760.65 1574.41h19.5M770.4 1564.66v19.5M743.85 1585.23h19.5M753.6 1575.48v19.5M749.45 1585.81h19.5M759.2 1576.06v19.5M738.25 1586.77h19.5M748 1577.02v19.5M755.05 1589h19.5M764.8 1579.25v19.5M732.65 1589h19.5M742.4 1579.25v19.5M760.65 1590.44h19.5M770.4 1580.69v19.5M727.05 1592.76h19.5M736.8 1583.01v19.5M766.25 1595.56h19.5M776 1585.81v19.5M721.45 1595.56h19.5M731.2 1585.81v19.5M771.85 1595.56h19.5M781.6 1585.81v19.5M715.85 1595.56h19.5M725.6 1585.81v19.5M743.85 1595.56h19.5M753.6 1585.81v19.5M749.45 1595.56h19.5M759.2 1585.81v19.5M738.25 1598.66h19.5M748 1588.91v19.5M755.05 1598.66h19.5M764.8 1588.91v19.5M732.65 1600.88h19.5M742.4 1591.13v19.5M760.65 1600.88h19.5M770.4 1591.13v19.5M743.85 1604.64h19.5M753.6 1594.89v19.5M749.45 1605.42h19.5M759.2 1595.67v19.5M738.25 1605.42h19.5M748 1595.67v19.5M755.05 1606.09h19.5M764.8 1596.34v19.5M732.65 1606.87h19.5M742.4 1597.12v19.5M760.65 1608.32h19.5M770.4 1598.57v19.5M727.05 1609.09h19.5M736.8 1599.34v19.5M727.05 1609.09h19.5M736.8 1599.34v19.5M766.25 1609.09h19.5M776 1599.34v19.5M721.45 1609.09h19.5M731.2 1599.34v19.5M771.85 1612.76h19.5M781.6 1603.01v19.5M715.85 1616.53h19.5M725.6 1606.78v19.5M743.85 1616.53h19.5M753.6 1606.78v19.5M749.45 1622.42h19.5M759.2 1612.67v19.5M738.25 1625.12h19.5M748 1615.37v19.5" stroke="#000" stroke-width="3.5" fill="none"/>
<path d="M753.6 1614.4V1574.12M732.1 1574.12h43M732.1 1614.4h43" stroke="#000" stroke-width="3.3" fill="none"/>
<path d="M853.75 1667.24h19.5M863.5 1657.49v19.5M876.55 1668.5h19.5M886.3 1658.75v19.5M899.35 1667.24h19.5M909.1 1657.49v19.5M865.15 1700.86h19.5M874.9 1691.11v19.5M887.95 1700.86h19.5M897.7 1691.11v19.5M910.75 1705.98h19.5M920.5 1696.23v19.5M865.15 1721.53h19.5M874.9 1711.78v19.5M887.95 1721.53h19.5M897.7 1711.78v19.5M876.55 1755.24h19.5M886.3 1745.49v19.5M876.55 1711.48h19.5M886.3 1701.73v19.5M865.15 1717.28h19.5M874.9 1707.53v19.5M887.95 1717.28h19.5M897.7 1707.53v19.5" stroke="#000" stroke-width="3.5" fill="none"/>
<path d="M886.3 1730.61V1669.95M864.95 1669.95h42.7M864.95 1730.61h42.7" stroke="#000" stroke-width="3.3" fill="none"/>
<path d="M975.05 1645.22h19.5M984.8 1635.47v19.5M1009.25 1638.74h19.5M1019 1628.99v19.5M1009.25 1661.54h19.5M1019 1651.79v19.5M975.05 1702.11h19.5M984.8 1692.36v19.5M1043.45 1695.64h19.5M1053.2 1685.89v19.5M1009.25 1711.19h19.5M1019 1701.44v19.5M975.05 1726.75h19.5M984.8 1717v19.5M1043.45 1718.92h19.5M1053.2 1709.17v19.5M1043.45 1712.45h19.5M1053.2 1702.7v19.5" stroke="#000" stroke-width="3.5" fill="none"/>
<path d="M1019 1721.53V1653.72M997.65 1653.72h42.7M997.65 1721.53h42.7" stroke="#000" stroke-width="3.3" fill="none"/>
<path d="M1135.15 1785.87h19.5M1144.9 1776.12v19.5M1128.35 1793.59h19.5M1138.1 1783.84v19.5M1148.75 1791.57h19.5M1158.5 1781.82v19.5M1141.95 1795.72h19.5M1151.7 1785.97v19.5M1155.55 1795.72h19.5M1165.3 1785.97v19.5M1175.95 1793.01h19.5M1185.7 1783.26v19.5M1114.75 1807.12h19.5M1124.5 1797.37v19.5M1135.15 1807.6h19.5M1144.9 1797.85v19.5M1162.35 1808.37h19.5M1172.1 1798.62v19.5M1141.95 1804.22h19.5M1151.7 1794.47v19.5M1148.75 1802.29h19.5M1158.5 1792.54v19.5M1128.35 1800.36h19.5M1138.1 1790.61v19.5M1169.15 1801.32h19.5M1178.9 1791.57v19.5M1121.55 1798.42h19.5M1131.3 1788.67v19.5" stroke="#000" stroke-width="3.5" fill="none"/>
<path d="M1151.7 1808.37V1791.28M1131.4 1791.28h40.6M1131.4 1808.37h40.6" stroke="#000" stroke-width="3.3" fill="none"/>
<path d="M753.7 1552V1548.2H886.7V1571" stroke="#000" stroke-width="4.7" fill="none" stroke-linejoin="miter"/>
<path d="M753.7 1552V1495.1H1015.3V1501.7" stroke="#000" stroke-width="4.7" fill="none" stroke-linejoin="miter"/>
<path d="M753.7 1552V1445.9H1145.2V1685.9" stroke="#000" stroke-width="4.7" fill="none" stroke-linejoin="miter"/>
<text x="761.8" y="1532.3" font-size="29.5" textLength="259.47" lengthAdjust="spacingAndGlyphs"><tspan font-family="DejaVu Sans" font-weight="bold" font-size="23.5" letter-spacing="-0.6" dy="1.8">&#8727;&#8727;&#8727;&#8727;</tspan><tspan dy="-1.8"> </tspan><tspan font-style="italic">p</tspan><tspan> = 1.10×10</tspan><tspan font-size="20" dy="-13">-6</tspan></text>
<text x="826" y="1479.3" font-size="29.5" textLength="259.67" lengthAdjust="spacingAndGlyphs"><tspan font-family="DejaVu Sans" font-weight="bold" font-size="23.5" letter-spacing="-0.6" dy="1.8">&#8727;&#8727;&#8727;&#8727;</tspan><tspan dy="-1.8"> </tspan><tspan font-style="italic">p</tspan><tspan> = 4.15×10</tspan><tspan font-size="20" dy="-13">-5</tspan></text>
<text x="891.94" y="1430.5" font-size="29.5" textLength="256.02" lengthAdjust="spacingAndGlyphs"><tspan font-family="DejaVu Sans" font-weight="bold" font-size="23.5" letter-spacing="-0.6" dy="1.8">&#8727;&#8727;&#8727;&#8727;</tspan><tspan dy="-1.8"> </tspan><tspan font-style="italic">p</tspan><tspan> = 7.51×10</tspan><tspan font-size="20" dy="-13">-7</tspan></text>
<text x="753.6" y="1927.8" font-size="31.3" text-anchor="middle">Original</text>
<text x="886.3" y="1927.8" font-size="31.3" text-anchor="middle">100°C</text>
<text x="1019" y="1927.8" font-size="31.3" text-anchor="middle">150°C</text>
<text x="1151.7" y="1927.8" font-size="31.3" text-anchor="middle">200°C</text>
<text x="886.3" y="1962" font-size="31.3" text-anchor="middle">in-situ</text>
<text x="1019" y="1962" font-size="31.3" text-anchor="middle">in-situ</text>
<text x="1151.7" y="1962" font-size="31.3" text-anchor="middle">in-situ</text>
<text transform="translate(573.5 1637) rotate(-90)" text-anchor="middle" font-size="36.9">Ultimate tensile strength (MPa)</text>
<rect x="1453.45" y="1679.44" width="83.5" height="202.86" fill="#808080" stroke="#000" stroke-width="5"/>
<rect x="1586.15" y="1729.99" width="83.5" height="152.31" fill="#ff8080" stroke="#000" stroke-width="5"/>
<rect x="1718.55" y="1686.85" width="83.5" height="195.45" fill="#f84242" stroke="#000" stroke-width="5"/>
<rect x="1851.85" y="1773.46" width="83.5" height="108.84" fill="#a00000" stroke="#000" stroke-width="5"/>
<rect x="1406.7" y="1399.3" width="575.7" height="483" fill="none" stroke="#000" stroke-width="5" stroke-linejoin="miter"/>
<line x1="1392.2" y1="1882.3" x2="1406.7" y2="1882.3" stroke="#000" stroke-width="5"/>
<text x="1387.4" y="1893.5" font-size="31.3" text-anchor="end">0</text>
<line x1="1392.2" y1="1721.3" x2="1406.7" y2="1721.3" stroke="#000" stroke-width="5"/>
<text x="1387.4" y="1732.5" font-size="31.3" text-anchor="end">50</text>
<line x1="1392.2" y1="1560.3" x2="1406.7" y2="1560.3" stroke="#000" stroke-width="5"/>
<text x="1387.4" y="1571.5" font-size="31.3" text-anchor="end">100</text>
<line x1="1392.2" y1="1399.3" x2="1406.7" y2="1399.3" stroke="#000" stroke-width="5"/>
<text x="1387.4" y="1410.5" font-size="31.3" text-anchor="end">150</text>
<line x1="1495.2" y1="1882.3" x2="1495.2" y2="1896.8" stroke="#000" stroke-width="5"/>
<line x1="1627.9" y1="1882.3" x2="1627.9" y2="1896.8" stroke="#000" stroke-width="5"/>
<line x1="1760.3" y1="1882.3" x2="1760.3" y2="1896.8" stroke="#000" stroke-width="5"/>
<line x1="1893.6" y1="1882.3" x2="1893.6" y2="1896.8" stroke="#000" stroke-width="5"/>
<path d="M1485.45 1613.11h19.5M1495.2 1603.36v19.5M1485.45 1630.82h19.5M1495.2 1621.07v19.5M1485.45 1643.38h19.5M1495.2 1633.63v19.5M1492.15 1652.07h19.5M1501.9 1642.32v19.5M1478.75 1652.39h19.5M1488.5 1642.64v19.5M1485.45 1657.54h19.5M1495.2 1647.79v19.5M1498.85 1661.41h19.5M1508.6 1651.66v19.5M1492.15 1663.34h19.5M1501.9 1653.59v19.5M1478.75 1665.27h19.5M1488.5 1655.52v19.5M1472.05 1666.56h19.5M1481.8 1656.81v19.5M1485.45 1668.17h19.5M1495.2 1658.42v19.5M1505.55 1669.78h19.5M1515.3 1660.03v19.5M1465.35 1671.07h19.5M1475.1 1661.32v19.5M1498.85 1671.71h19.5M1508.6 1661.96v19.5M1512.25 1671.71h19.5M1522 1661.96v19.5M1458.65 1673h19.5M1468.4 1663.25v19.5M1492.15 1673.97h19.5M1501.9 1664.22v19.5M1518.95 1673.97h19.5M1528.7 1664.22v19.5M1451.95 1674.61h19.5M1461.7 1664.86v19.5M1485.45 1674.93h19.5M1495.2 1665.18v19.5M1478.75 1675.58h19.5M1488.5 1665.83v19.5M1472.05 1676.86h19.5M1481.8 1667.11v19.5M1492.15 1677.83h19.5M1501.9 1668.08v19.5M1485.45 1679.44h19.5M1495.2 1669.69v19.5M1505.55 1681.05h19.5M1515.3 1671.3v19.5M1498.85 1682.66h19.5M1508.6 1672.91v19.5M1465.35 1682.66h19.5M1475.1 1672.91v19.5M1478.75 1685.88h19.5M1488.5 1676.13v19.5M1472.05 1687.81h19.5M1481.8 1678.06v19.5M1492.15 1689.1h19.5M1501.9 1679.35v19.5M1485.45 1689.74h19.5M1495.2 1679.99v19.5M1498.85 1692.96h19.5M1508.6 1683.21v19.5M1478.75 1698.12h19.5M1488.5 1688.37v19.5M1472.05 1698.44h19.5M1481.8 1688.69v19.5M1485.45 1720.01h19.5M1495.2 1710.26v19.5M1492.15 1722.27h19.5M1501.9 1712.52v19.5M1485.45 1748.99h19.5M1495.2 1739.24v19.5M1485.45 1767.35h19.5M1495.2 1757.6v19.5" stroke="#000" stroke-width="3.5" fill="none"/>
<path d="M1495.2 1709.71V1648.53M1473.7 1648.53h43M1473.7 1709.71h43" stroke="#000" stroke-width="3.3" fill="none"/>
<path d="M1598.55 1656.9h19.5M1608.3 1647.15v19.5M1637.75 1653.68h19.5M1647.5 1643.93v19.5M1618.15 1678.8h19.5M1627.9 1669.05v19.5M1598.55 1730.32h19.5M1608.3 1720.57v19.5M1637.75 1724.2h19.5M1647.5 1714.45v19.5M1598.55 1753.5h19.5M1608.3 1743.75v19.5M1637.75 1749.96h19.5M1647.5 1740.21v19.5M1618.15 1785.06h19.5M1627.9 1775.31v19.5M1618.15 1808.24h19.5M1627.9 1798.49v19.5" stroke="#000" stroke-width="3.5" fill="none"/>
<path d="M1627.9 1781.84V1672.36M1606.25 1672.36h43.3M1606.25 1781.84h43.3" stroke="#000" stroke-width="3.3" fill="none"/>
<path d="M1785.15 1637.58h19.5M1794.9 1627.83v19.5M1750.55 1650.46h19.5M1760.3 1640.71v19.5M1715.95 1679.12h19.5M1725.7 1669.37v19.5M1750.55 1673h19.5M1760.3 1663.25v19.5M1785.15 1679.12h19.5M1794.9 1669.37v19.5M1750.55 1701.98h19.5M1760.3 1692.23v19.5M1715.95 1724.2h19.5M1725.7 1714.45v19.5M1785.15 1720.98h19.5M1794.9 1711.23v19.5" stroke="#000" stroke-width="3.5" fill="none"/>
<path d="M1760.3 1714.22V1651.75M1738.65 1651.75h43.3M1738.65 1714.22h43.3" stroke="#000" stroke-width="3.3" fill="none"/>
<path d="M1883.85 1705.2h19.5M1893.6 1695.45v19.5M1883.85 1728.06h19.5M1893.6 1718.31v19.5M1883.85 1766.38h19.5M1893.6 1756.63v19.5M1849.29 1788.92h19.5M1859.04 1779.17v19.5M1849.29 1808.56h19.5M1859.04 1798.81v19.5M1894.65 1798.9h19.5M1904.4 1789.15v19.5M1917.33 1798.9h19.5M1927.08 1789.15v19.5M1883.85 1776.04h19.5M1893.6 1766.29v19.5" stroke="#000" stroke-width="3.5" fill="none"/>
<path d="M1893.6 1810.17V1730.96M1871.95 1730.96h43.3M1871.95 1810.17h43.3" stroke="#000" stroke-width="3.3" fill="none"/>
<path d="M1495.6 1599.3V1582.2H1626.6V1597.4" stroke="#000" stroke-width="4.7" fill="none" stroke-linejoin="miter"/>
<path d="M1495.6 1599.3V1529.7H1760.8V1544.9" stroke="#000" stroke-width="4.7" fill="none" stroke-linejoin="miter"/>
<path d="M1495.6 1599.3V1475.8H1891.8V1600.4" stroke="#000" stroke-width="4.7" fill="none" stroke-linejoin="miter"/>
<text x="1521.69" y="1565" font-size="29.5" textLength="170.57" lengthAdjust="spacingAndGlyphs"><tspan font-family="DejaVu Sans" font-weight="bold" font-size="23.5" letter-spacing="-0.6" dy="1.8">&#8727;&#8727;</tspan><tspan dy="-1.8"> </tspan><tspan font-style="italic">p</tspan><tspan> = 0.009</tspan></text>
<text x="1548.75" y="1513" font-size="29.5" textLength="157.67" lengthAdjust="spacingAndGlyphs"><tspan>ns</tspan><tspan> </tspan><tspan font-style="italic">p</tspan><tspan> = 0.264</tspan></text>
<text x="1549.6" y="1460.4" font-size="29.5" textLength="293.18" lengthAdjust="spacingAndGlyphs"><tspan font-family="DejaVu Sans" font-weight="bold" font-size="23.5" letter-spacing="-0.6" dy="1.8">&#8727;&#8727;&#8727;&#8727;</tspan><tspan dy="-1.8"> </tspan><tspan font-style="italic">p</tspan><tspan> = 1.158 × 10</tspan><tspan font-size="20" dy="-13">-7</tspan></text>
<text x="1495.2" y="1927.9" font-size="31.3" text-anchor="middle">Original</text>
<text x="1627.9" y="1927.9" font-size="31.3" text-anchor="middle">100°C</text>
<text x="1760.3" y="1927.9" font-size="31.3" text-anchor="middle">150°C</text>
<text x="1893.6" y="1927.9" font-size="31.3" text-anchor="middle">200°C</text>
<text x="1627.9" y="1962.1" font-size="31.3" text-anchor="middle">in-situ</text>
<text x="1760.3" y="1962.1" font-size="31.3" text-anchor="middle">in-situ</text>
<text x="1893.6" y="1962.1" font-size="31.3" text-anchor="middle">in-situ</text>
<text transform="translate(1317.8 1637) rotate(-90)" text-anchor="middle" font-size="36.9">Toughness (MJ/m<tspan font-size="24" dy="-14">3</tspan><tspan dy="14">)</tspan></text>
<rect x="21.3" y="704.1" width="468.4" height="233.5" fill="url(#gD)" stroke="#444" stroke-width="1.3"/>
<text x="257" y="745.1" font-size="39.6" text-anchor="middle">100<tspan font-size="25.5" dy="-12.3">o</tspan><tspan dy="12.3">C 150</tspan><tspan font-size="25.5" dy="-12.3">o</tspan><tspan dy="12.3">C 200</tspan><tspan font-size="25.5" dy="-12.3">o</tspan><tspan dy="12.3">C</tspan></text>
<path d="M173 864.1C173 853.3 178.2 853.3 178.2 842.5C178.2 831.1 172.5 831.1 172.5 819.7C172.5 809.45 177.6 809.45 177.6 799.2C177.6 788.95 171.3 788.95 171.3 778.7" stroke="#cc0000" stroke-width="1.6" fill="none"/>
<path d="M172.5 752L176.2 777.6L168.5 777.6Z" fill="#cc0000"/>
<path d="M327.9 872.7C327.9 861 332.5 861 332.5 849.3C332.5 838.5 326.8 838.5 326.8 827.7C326.8 817.45 331.9 817.45 331.9 807.2C331.9 797.25 325.1 797.25 325.1 787.3" stroke="#cc0000" stroke-width="1.6" fill="none"/>
<path d="M326.8 760.5L330.8 786.5L323.1 786.5Z" fill="#cc0000"/>
<rect x="248.4" y="755.9" width="5.5" height="110.7" fill="url(#gRod)"/>
<text x="250.5" y="914.1" font-size="39.8" text-anchor="middle">Heating</text>
<path d="M213.2 954.9H291.5V998.8H329.2L252.4 1042.7L174.9 998.8H213.2Z" fill="#d9d9d9"/>
<text x="256.5" y="1069.9" font-size="40.3" text-anchor="middle">ex-situ</text>
<rect x="20" y="1103.2" width="471" height="167.4" fill="url(#gRT)" stroke="#000" stroke-width="3.8"/>
<rect x="253.3" y="1108.5" width="5.3" height="111.3" fill="url(#gRod)"/>
<text x="269.4" y="1260.5" font-size="39.8" text-anchor="middle">Room temperature</text>
<rect x="20.2" y="1394" width="471" height="533" fill="url(#gG)" stroke="#000" stroke-width="4"/>
<text x="256.4" y="1460.7" font-size="39.6" text-anchor="middle">100<tspan font-size="25.5" dy="-12.3">o</tspan><tspan dy="12.3">C 150</tspan><tspan font-size="25.5" dy="-12.3">o</tspan><tspan dy="12.3">C 200</tspan><tspan font-size="25.5" dy="-12.3">o</tspan><tspan dy="12.3">C</tspan></text>
<path d="M154 1801.8C154 1780.75 164.2 1780.75 164.2 1759.7C164.2 1735.25 151.3 1735.25 151.3 1710.8C151.3 1689.75 162.1 1689.75 162.1 1668.7C162.1 1647.5 149.6 1647.5 149.6 1626.3" stroke="#c80000" stroke-width="2.2" fill="none"/>
<path d="M151.9 1571.5L160.1 1626.3L143.8 1626.3Z" fill="#c80000"/>
<path d="M356.4 1800.5C356.4 1780.1 366.6 1780.1 366.6 1759.7C366.6 1734.6 353.4 1734.6 353.4 1709.5C353.4 1690.45 364.6 1690.45 364.6 1671.4C364.6 1648.2 351.7 1648.2 351.7 1625" stroke="#c80000" stroke-width="2.2" fill="none"/>
<path d="M354 1569.8L362.1 1625L345.8 1625Z" fill="#c80000"/>
<rect x="261" y="1503.5" width="11.9" height="235.6" fill="url(#gRod)"/>
<text x="252.4" y="1882.6" font-size="39.9" text-anchor="middle">Heating</text>
<text x="254.8" y="1960.7" font-size="39.9" text-anchor="middle">in-situ</text>
<defs>
<linearGradient id="aOut" x1="40" y1="0" x2="481" y2="0" gradientUnits="userSpaceOnUse">
 <stop offset="0" stop-color="#dedede"/><stop offset="0.03" stop-color="#f4f4f4"/><stop offset="0.1" stop-color="#fbfbfb"/><stop offset="0.5" stop-color="#f6f6f6"/><stop offset="0.855" stop-color="#dadada"/><stop offset="0.875" stop-color="#cdcdcd"/><stop offset="0.9" stop-color="#e6e6e6"/><stop offset="0.94" stop-color="#fafcfc"/><stop offset="0.985" stop-color="#f0f0f0"/><stop offset="1" stop-color="#dcdcdc"/>
</linearGradient>
<linearGradient id="aIn" x1="104" y1="0" x2="416" y2="0" gradientUnits="userSpaceOnUse">
 <stop offset="0" stop-color="#f2f2f4"/><stop offset="0.075" stop-color="#fafafa"/><stop offset="0.115" stop-color="#c8c8cc"/><stop offset="0.22" stop-color="#c8c8cc"/><stop offset="0.3" stop-color="#d6d6da"/><stop offset="0.46" stop-color="#e2e2e8"/><stop offset="0.52" stop-color="#eeeef4"/><stop offset="0.6" stop-color="#e8e8ee"/><stop offset="0.78" stop-color="#e0e0e4"/><stop offset="0.9" stop-color="#d6d6da"/><stop offset="1" stop-color="#c8c8cc"/>
</linearGradient>
<linearGradient id="aLiq" x1="106.6" y1="0" x2="414.4" y2="0" gradientUnits="userSpaceOnUse">
 <stop offset="0" stop-color="#9cb0ea"/><stop offset="0.05" stop-color="#b2c4f4"/><stop offset="0.09" stop-color="#a4b2dc"/><stop offset="0.19" stop-color="#a6b0d2"/><stop offset="0.26" stop-color="#b4bad0"/><stop offset="0.33" stop-color="#c8cadc"/><stop offset="0.5" stop-color="#d0d2e4"/><stop offset="0.66" stop-color="#c4cadc"/><stop offset="0.74" stop-color="#b4c4e2"/><stop offset="0.8" stop-color="#c8d0e4"/><stop offset="0.85" stop-color="#b0bee6"/><stop offset="0.9" stop-color="#8aa2e0"/><stop offset="1" stop-color="#7a94da"/>
</linearGradient>
<linearGradient id="aSurf" x1="106" y1="0" x2="414" y2="0" gradientUnits="userSpaceOnUse">
 <stop offset="0" stop-color="#a4aab8"/><stop offset="0.3" stop-color="#949aab"/><stop offset="0.5" stop-color="#a2a8b8"/><stop offset="0.75" stop-color="#b2b8c4"/><stop offset="1" stop-color="#a6acb8"/>
</linearGradient>
<linearGradient id="aBot" x1="106" y1="0" x2="414" y2="0" gradientUnits="userSpaceOnUse">
 <stop offset="0" stop-color="#c4cce8"/><stop offset="0.3" stop-color="#c8cadc"/><stop offset="0.6" stop-color="#ccccdc"/><stop offset="0.85" stop-color="#c8cedc"/><stop offset="1" stop-color="#c0c8e0"/>
</linearGradient>
<linearGradient id="aRod" x1="0" y1="0" x2="1" y2="0">
 <stop offset="0" stop-color="#c09050"/><stop offset="0.5" stop-color="#e0b870"/><stop offset="1" stop-color="#b08040"/>
</linearGradient>
</defs>
<path d="M40 197V505A220.5 36 0 0 0 481 505V197Z" fill="url(#aOut)" fill-opacity="0.7" stroke="#cfcfcf" stroke-width="1.2"/>
<ellipse cx="260.4" cy="497" rx="219.5" ry="45.5" fill="#d9d9d9" fill-opacity="0.9" stroke="#d0d0d0" stroke-width="1"/>
<ellipse cx="262" cy="505" rx="190" ry="31" fill="#e2e2e2" fill-opacity="0.8"/>
<path d="M40 497A220.5 45.5 0 0 0 481 497" fill="none" stroke="#cfcfcf" stroke-width="1.2"/>
<ellipse cx="260.4" cy="196" rx="220.5" ry="47" fill="#f3f3f3"/>
<ellipse cx="260.4" cy="197" rx="220.5" ry="36" fill="#f7f7f7" stroke="#c9c9c9" stroke-width="1.3"/>
<path d="M104 197V503A156 26 0 0 0 416 503V197Z" fill="url(#aIn)" stroke="#c6c6c6" stroke-width="1.2"/>
<path d="M104.6 470V503A155.4 25.4 0 0 0 415.4 503V470Z" fill="#e3e3e3" fill-opacity="0.9"/>
<ellipse cx="260" cy="503" rx="156" ry="26" fill="#e9e9e9" stroke="#d0d0d0" stroke-width="1"/>
<path d="M106.6 318V443Q106.6 470 140 476Q200 486 260 486Q320 486 380 476Q414.4 470 414.4 443V318Z" fill="url(#aLiq)"/>
<path d="M110 446Q112 470 150 477Q205 486 260 486Q315 486 370 477Q408 470 410 446Q380 440 260 440Q140 440 110 446Z" fill="url(#aBot)"/>
<ellipse cx="262" cy="427" rx="150" ry="20" fill="#dadcee" fill-opacity="0.75"/>
<path d="M140 478Q200 487 260 487Q320 487 380 478" fill="none" stroke="#f0f0f6" stroke-width="1.4"/>
<ellipse cx="260.5" cy="318" rx="153.9" ry="31.6" fill="url(#aSurf)" stroke="#f4f4f8" stroke-width="1.6"/>
<ellipse cx="260" cy="197" rx="156" ry="25" fill="#f6f6f8" fill-opacity="0.35" stroke="#c6c6c6" stroke-width="1.3"/>
<rect x="261.7" y="140" width="7.7" height="227.6" fill="url(#aRod)"/>
<rect x="261.7" y="140" width="7.7" height="8" fill="#d99a30"/>
<path d="M120.9 80.9C120.9 92.2 114.2 92.2 114.2 103.5C114.2 115.6 121.4 115.6 121.4 127.7C121.4 139 114.2 139 114.2 150.3C114.2 163.25 120.9 163.25 120.9 176.2" stroke="#0000ff" stroke-width="3.4" fill="none"/>
<path d="M121.1 210.5L128.5 176.2L115.1 176.2Z" fill="#2a2af0"/>
<path d="M187 80.9C187 92.2 180.3 92.2 180.3 103.5C180.3 115.6 188.7 115.6 188.7 127.7C188.7 139 180.3 139 180.3 150.3C180.3 163.45 188.2 163.45 188.2 176.6" stroke="#0000ff" stroke-width="3.4" fill="none"/>
<path d="M187.4 210.5L194.5 176.6L181.6 176.6Z" fill="#2a2af0"/>
<path d="M327.6 75.9C327.6 87.2 319.7 87.2 319.7 98.5C319.7 111 328 111 328 123.5C328 134.8 319.7 134.8 319.7 146.1C319.7 158.65 327.6 158.65 327.6 171.2" stroke="#0000ff" stroke-width="3.4" fill="none"/>
<path d="M326.5 206.3L333.9 171.2L320.9 171.2Z" fill="#2a2af0"/>
<path d="M389.9 77.6C389.9 89.3 382 89.3 382 101C382 113.5 390.3 113.5 390.3 126C390.3 136.9 382 136.9 382 147.8C382 160.35 389.5 160.35 389.5 172.9" stroke="#0000ff" stroke-width="3.4" fill="none"/>
<path d="M388.7 208.8L396.2 172.9L382.8 172.9Z" fill="#2a2af0"/>
<text x="262.3" y="61.5" font-size="39.95" text-anchor="middle" fill="#0000ff">liquid nitrogen</text>
<text x="269.1" y="596.5" font-size="39.75" text-anchor="middle">extreme cold</text>
</svg></body></html>
